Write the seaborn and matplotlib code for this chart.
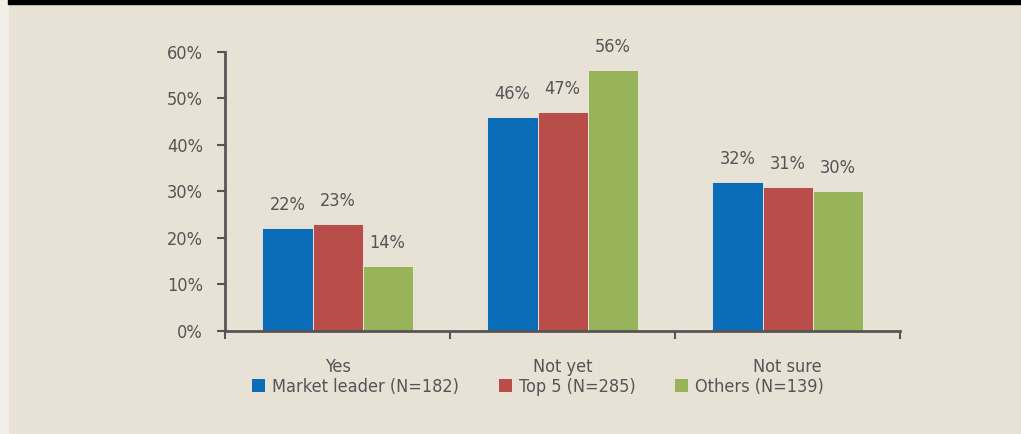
import pandas as pd
import seaborn as sns
import matplotlib.pyplot as plt
from matplotlib.patches import Patch
from matplotlib.ticker import FixedLocator

categories = ['Yes', 'Not yet', 'Not sure']
groups = ['Market leader (N=182)', 'Top 5 (N=285)', 'Others (N=139)']
market_leader = [22, 46, 32]
top5 = [23, 47, 31]
others = [14, 56, 30]
yticks = [0, 10, 20, 30, 40, 50, 60]

bg = '#E8E1D6'
txt = '#555555'
palette = ['#0B6DB7', '#B84D4A', '#98B45A']

df = pd.DataFrame({
    'answer': categories * 3,
    'group': [g for g in groups for _ in categories],
    'value': market_leader + top5 + others,
})

sns.set_theme(style='white')
plt.rcParams['font.family'] = ['DejaVu Sans']
plt.rcParams['font.stretch'] = 'condensed'

fig = plt.figure(figsize=(10.21, 4.34), dpi=100, facecolor=bg)
# black strip on top and light margin on the left
fig.patches.append(plt.Rectangle((0, 0), 0.008, 1, transform=fig.transFigure, color='#F2EEE8', zorder=0))
fig.patches.append(plt.Rectangle((0.008, 0.99), 1, 0.02, transform=fig.transFigure, color='black', zorder=1))
ax = fig.add_axes([0.2204, 0.238, 0.6611, 0.643])
ax.set_facecolor(bg)

sns.barplot(data=df, x='answer', y='value', hue='group', palette=palette,
            width=0.667, gap=0, legend=False, ax=ax, saturation=1,
            edgecolor='#f0ebe3', linewidth=0.6)

for cont in ax.containers:
    ax.bar_label(cont, labels=[f'{int(v)}%' for v in cont.datavalues],
                 padding=10, fontsize=13, color=txt)

ax.set_ylim(0, 60)
ax.set_xlim(-0.5, 2.5)
ax.set_yticks(yticks)
ax.set_yticklabels([f'{v}%' for v in yticks], fontsize=13, color=txt)
ax.set_xticks(range(3))
ax.set_xticklabels(categories, fontsize=13, color=txt)
ax.xaxis.set_minor_locator(FixedLocator([-0.5, 0.5, 1.5, 2.5]))
ax.tick_params(axis='x', which='major', length=0, pad=20)
ax.tick_params(axis='x', which='minor', length=6, width=1.5, color='#555555', bottom=True)
ax.tick_params(axis='y', length=6, width=1.5, color='#555555', left=True, pad=10)
ax.set_xlabel('')
ax.set_ylabel('')
for s in ['top', 'right']:
    ax.spines[s].set_visible(False)
for s in ['left', 'bottom']:
    ax.spines[s].set_color('#555555')
    ax.spines[s].set_linewidth(2)

handles = [Patch(facecolor=c, edgecolor='none', label=g) for c, g in zip(palette, groups)]
leg = fig.legend(handles=handles, loc='center', bbox_to_anchor=(0.527, 0.108), ncol=3,
                 frameon=False, fontsize=13, handlelength=0.7, handleheight=0.7,
                 handletextpad=0.4, columnspacing=2.2, labelcolor=txt)

fig.savefig('out.png', dpi=100, facecolor=bg)
